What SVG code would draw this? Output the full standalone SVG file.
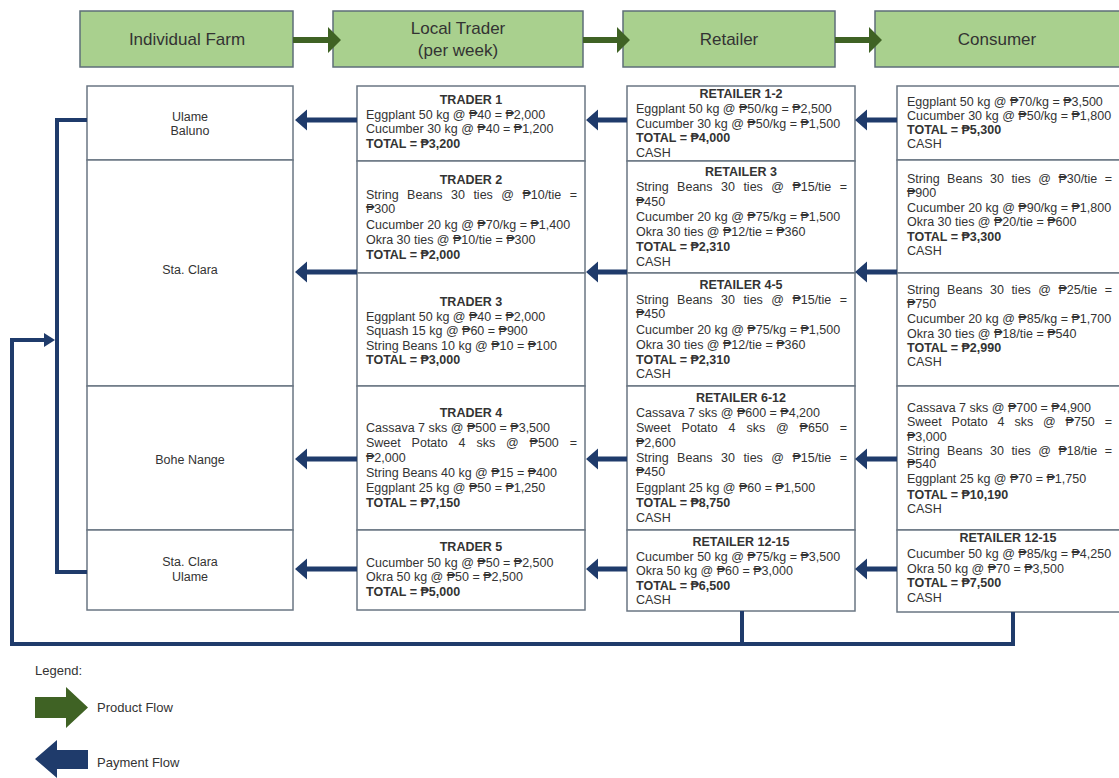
<svg xmlns="http://www.w3.org/2000/svg" width="1119" height="778" viewBox="0 0 1119 778">
<style>
.hdr{fill:#a9d08e;stroke:#5e6e78;stroke-width:1.5}
.box{fill:#fff;stroke:#6a7683;stroke-width:1.5}
.ht{font-family:"Liberation Sans",Arial,sans-serif;font-size:17px;fill:#333;text-anchor:middle}
.ft{font-family:"Liberation Sans",Arial,sans-serif;font-size:12.5px;fill:#333;text-anchor:middle}
.t{font-family:"Liberation Sans",Arial,sans-serif;font-size:12.5px;fill:#333}
.b{font-weight:bold}
.c{text-anchor:middle}
.e{text-anchor:end}
.pay{fill:#1f3b6b}
.prod{fill:#3f6224}
.ln{stroke:#1f3b6b;stroke-width:4;fill:none}
.lg{font-family:"Liberation Sans",Arial,sans-serif;font-size:13px;fill:#333}
</style>
<rect width="1119" height="778" fill="#fff"/>

<g id="header-farm"><rect class="hdr" x="80" y="11" width="213" height="56"/><text class="ht" x="187" y="45">Individual Farm</text></g>
<g id="header-trader"><rect class="hdr" x="333" y="11" width="250" height="56"/><text class="ht" x="458" y="34">Local Trader</text><text class="ht" x="458" y="56">(per week)</text></g>
<g id="header-retailer"><rect class="hdr" x="623" y="11" width="212" height="56"/><text class="ht" x="729" y="45">Retailer</text></g>
<g id="header-consumer"><rect class="hdr" x="875" y="11" width="260" height="56"/><text class="ht" x="997" y="45">Consumer</text></g>

<g id="farm-ulame-baluno"><rect class="box" x="87" y="86" width="206" height="74"/><text class="ft" x="190" y="121">Ulame</text><text class="ft" x="190" y="135">Baluno</text></g>
<g id="farm-sta-clara"><rect class="box" x="87" y="160" width="206" height="226"/><text class="ft" x="190" y="274">Sta. Clara</text></g>
<g id="farm-bohe-nange"><rect class="box" x="87" y="386" width="206" height="144"/><text class="ft" x="190" y="464">Bohe Nange</text></g>
<g id="farm-sta-clara-ulame"><rect class="box" x="87" y="530" width="206" height="80"/><text class="ft" x="190" y="566">Sta. Clara</text><text class="ft" x="190" y="581">Ulame</text></g>

<g id="trader-1"><rect class="box" x="357" y="86" width="228" height="75"/>
<text class="t b c" x="471" y="104">TRADER 1</text>
<text class="t" x="366" y="118.5">Eggplant 50 kg @ ₱40 = ₱2,000</text>
<text class="t" x="366" y="133">Cucumber 30 kg @ ₱40 = ₱1,200</text>
<text class="t b" x="366" y="147.5">TOTAL = ₱3,200</text></g>
<g id="trader-2"><rect class="box" x="357" y="161" width="228" height="112"/>
<text class="t b c" x="471" y="184">TRADER 2</text>
<text class="t" y="199"><tspan x="366">String</tspan><tspan x="407.1">Beans</tspan><tspan x="451">30</tspan><tspan x="473.4">ties</tspan><tspan x="501.3">@</tspan><tspan x="522.4">₱10/tie</tspan></text><text class="t e" x="577" y="199">=</text>
<text class="t" x="366" y="213">₱300</text>
<text class="t" x="366" y="229">Cucumber 20 kg @ ₱70/kg = ₱1,400</text>
<text class="t" x="366" y="244">Okra 30 ties @ ₱10/tie = ₱300</text>
<text class="t b" x="366" y="259">TOTAL = ₱2,000</text></g>
<g id="trader-3"><rect class="box" x="357" y="273" width="228" height="113"/>
<text class="t b c" x="471" y="306">TRADER 3</text>
<text class="t" x="366" y="320.5">Eggplant 50 kg @ ₱40 = ₱2,000</text>
<text class="t" x="366" y="335">Squash 15 kg @ ₱60 = ₱900</text>
<text class="t" x="366" y="349.5">String Beans 10 kg @ ₱10 = ₱100</text>
<text class="t b" x="366" y="364">TOTAL = ₱3,000</text></g>
<g id="trader-4"><rect class="box" x="357" y="386" width="228" height="144"/>
<text class="t b c" x="471" y="417">TRADER 4</text>
<text class="t" x="366" y="432">Cassava 7 sks @ ₱500 = ₱3,500</text>
<text class="t" y="447"><tspan x="366">Sweet</tspan><tspan x="411.6">Potato</tspan><tspan x="458.6">4</tspan><tspan x="476.4">sks</tspan><tspan x="506">@</tspan><tspan x="529.6">₱500</tspan></text><text class="t e" x="577" y="447">=</text>
<text class="t" x="366" y="461.5">₱2,000</text>
<text class="t" x="366" y="477">String Beans 40 kg @ ₱15 = ₱400</text>
<text class="t" x="366" y="492">Eggplant 25 kg @ ₱50 = ₱1,250</text>
<text class="t b" x="366" y="507">TOTAL = ₱7,150</text></g>
<g id="trader-5"><rect class="box" x="357" y="530" width="228" height="80"/>
<text class="t b c" x="471" y="551">TRADER 5</text>
<text class="t" x="366" y="566.5">Cucumber 50 kg @ ₱50 = ₱2,500</text>
<text class="t" x="366" y="581">Okra 50 kg @ ₱50 = ₱2,500</text>
<text class="t b" x="366" y="596">TOTAL = ₱5,000</text></g>

<g id="retailer-1-2"><rect class="box" x="627" y="86" width="228" height="75"/>
<text class="t b c" x="741" y="98">RETAILER 1-2</text>
<text class="t" x="636" y="113">Eggplant 50 kg @ ₱50/kg = ₱2,500</text>
<text class="t" x="636" y="127.5">Cucumber 30 kg @ ₱50/kg = ₱1,500</text>
<text class="t b" x="636" y="142">TOTAL = ₱4,000</text>
<text class="t" x="636" y="156.5">CASH</text></g>
<g id="retailer-3"><rect class="box" x="627" y="161" width="228" height="112"/>
<text class="t b c" x="741" y="176">RETAILER 3</text>
<text class="t" y="191"><tspan x="636">String</tspan><tspan x="677.1">Beans</tspan><tspan x="721">30</tspan><tspan x="743.4">ties</tspan><tspan x="771.3">@</tspan><tspan x="792.4">₱15/tie</tspan></text><text class="t e" x="847" y="191">=</text>
<text class="t" x="636" y="205.5">₱450</text>
<text class="t" x="636" y="221">Cucumber 20 kg @ ₱75/kg = ₱1,500</text>
<text class="t" x="636" y="236">Okra 30 ties @ ₱12/tie = ₱360</text>
<text class="t b" x="636" y="251">TOTAL = ₱2,310</text>
<text class="t" x="636" y="265.5">CASH</text></g>
<g id="retailer-4-5"><rect class="box" x="627" y="273" width="228" height="113"/>
<text class="t b c" x="741" y="289">RETAILER 4-5</text>
<text class="t" y="304"><tspan x="636">String</tspan><tspan x="677.1">Beans</tspan><tspan x="721">30</tspan><tspan x="743.4">ties</tspan><tspan x="771.3">@</tspan><tspan x="792.4">₱15/tie</tspan></text><text class="t e" x="847" y="304">=</text>
<text class="t" x="636" y="318">₱450</text>
<text class="t" x="636" y="333.5">Cucumber 20 kg @ ₱75/kg = ₱1,500</text>
<text class="t" x="636" y="348.5">Okra 30 ties @ ₱12/tie = ₱360</text>
<text class="t b" x="636" y="363.5">TOTAL = ₱2,310</text>
<text class="t" x="636" y="378">CASH</text></g>
<g id="retailer-6-12"><rect class="box" x="627" y="386" width="228" height="144"/>
<text class="t b c" x="741" y="402">RETAILER 6-12</text>
<text class="t" x="636" y="417">Cassava 7 sks @ ₱600 = ₱4,200</text>
<text class="t" y="432"><tspan x="636">Sweet</tspan><tspan x="681.6">Potato</tspan><tspan x="728.6">4</tspan><tspan x="746.4">sks</tspan><tspan x="776">@</tspan><tspan x="799.6">₱650</tspan></text><text class="t e" x="847" y="432">=</text>
<text class="t" x="636" y="446.5">₱2,600</text>
<text class="t" y="461.5"><tspan x="636">String</tspan><tspan x="677.1">Beans</tspan><tspan x="721">30</tspan><tspan x="743.4">ties</tspan><tspan x="771.3">@</tspan><tspan x="792.4">₱15/tie</tspan></text><text class="t e" x="847" y="461.5">=</text>
<text class="t" x="636" y="476">₱450</text>
<text class="t" x="636" y="492">Eggplant 25 kg @ ₱60 = ₱1,500</text>
<text class="t b" x="636" y="507">TOTAL = ₱8,750</text>
<text class="t" x="636" y="521.5">CASH</text></g>
<g id="retailer-12-15"><rect class="box" x="627" y="530" width="228" height="81"/>
<text class="t b c" x="741" y="546">RETAILER 12-15</text>
<text class="t" x="636" y="560.5">Cucumber 50 kg @ ₱75/kg = ₱3,500</text>
<text class="t" x="636" y="575">Okra 50 kg @ ₱60 = ₱3,000</text>
<text class="t b" x="636" y="589.5">TOTAL = ₱6,500</text>
<text class="t" x="636" y="604">CASH</text></g>

<g id="consumer-1"><rect class="box" x="897" y="86" width="240" height="74"/>
<text class="t" x="907" y="106">Eggplant 50 kg @ ₱70/kg = ₱3,500</text>
<text class="t" x="907" y="120">Cucumber 30 kg @ ₱50/kg = ₱1,800</text>
<text class="t b" x="907" y="134">TOTAL = ₱5,300</text>
<text class="t" x="907" y="148">CASH</text></g>
<g id="consumer-2"><rect class="box" x="897" y="160" width="240" height="113"/>
<text class="t" y="183"><tspan x="907">String</tspan><tspan x="947.1">Beans</tspan><tspan x="990">30</tspan><tspan x="1011.4">ties</tspan><tspan x="1038.3">@</tspan><tspan x="1058.4">₱30/tie</tspan></text><text class="t e" x="1112" y="183">=</text>
<text class="t" x="907" y="197">₱900</text>
<text class="t" x="907" y="211.5">Cucumber 20 kg @ ₱90/kg = ₱1,800</text>
<text class="t" x="907" y="226">Okra 30 ties @ ₱20/tie = ₱600</text>
<text class="t b" x="907" y="241">TOTAL = ₱3,300</text>
<text class="t" x="907" y="255">CASH</text></g>
<g id="consumer-3"><rect class="box" x="897" y="273" width="240" height="113"/>
<text class="t" y="294"><tspan x="907">String</tspan><tspan x="947.1">Beans</tspan><tspan x="990">30</tspan><tspan x="1011.4">ties</tspan><tspan x="1038.3">@</tspan><tspan x="1058.4">₱25/tie</tspan></text><text class="t e" x="1112" y="294">=</text>
<text class="t" x="907" y="308">₱750</text>
<text class="t" x="907" y="323">Cucumber 20 kg @ ₱85/kg = ₱1,700</text>
<text class="t" x="907" y="337.5">Okra 30 ties @ ₱18/tie = ₱540</text>
<text class="t b" x="907" y="352">TOTAL = ₱2,990</text>
<text class="t" x="907" y="366">CASH</text></g>
<g id="consumer-4"><rect class="box" x="897" y="386" width="240" height="144"/>
<text class="t" x="907" y="412">Cassava 7 sks @ ₱700 = ₱4,900</text>
<text class="t" y="426"><tspan x="907">Sweet</tspan><tspan x="951.6">Potato</tspan><tspan x="997.6">4</tspan><tspan x="1014.4">sks</tspan><tspan x="1043">@</tspan><tspan x="1065.6">₱750</tspan></text><text class="t e" x="1112" y="426">=</text>
<text class="t" x="907" y="441">₱3,000</text>
<text class="t" y="455"><tspan x="907">String</tspan><tspan x="947.1">Beans</tspan><tspan x="990">30</tspan><tspan x="1011.4">ties</tspan><tspan x="1038.3">@</tspan><tspan x="1058.4">₱18/tie</tspan></text><text class="t e" x="1112" y="455">=</text>
<text class="t" x="907" y="468">₱540</text>
<text class="t" x="907" y="483">Eggplant 25 kg @ ₱70 = ₱1,750</text>
<text class="t b" x="907" y="498.5">TOTAL = ₱10,190</text>
<text class="t" x="907" y="513">CASH</text></g>
<g id="consumer-5"><rect class="box" x="897" y="530" width="240" height="82"/>
<text class="t b c" x="1008" y="542">RETAILER 12-15</text>
<text class="t" x="907" y="558">Cucumber 50 kg @ ₱85/kg = ₱4,250</text>
<text class="t" x="907" y="572.5">Okra 50 kg @ ₱70 = ₱3,500</text>
<text class="t b" x="907" y="587">TOTAL = ₱7,500</text>
<text class="t" x="907" y="601.5">CASH</text></g>

<g id="connectors">
<path class="prod" d="M293,37 H328 V27 L341,40 L328,53 V43 H293 Z"/>
<path class="prod" d="M583,37 H617 V27 L630,40 L617,53 V43 H583 Z"/>
<path class="prod" d="M835,37 H869 V27 L882,40 L869,53 V43 H835 Z"/>

<path class="pay" d="M855,120 L867,109.5 V117.5 H897 V122.5 H867 V130.5 Z"/>
<path class="pay" d="M586,120 L598,109.5 V117.5 H627 V122.5 H598 V130.5 Z"/>
<path class="pay" d="M295,120 L307,109.5 V117.5 H357 V122.5 H307 V130.5 Z"/>

<path class="pay" d="M855,272 L867,261.5 V269.5 H897 V274.5 H867 V282.5 Z"/>
<path class="pay" d="M586,272 L598,261.5 V269.5 H627 V274.5 H598 V282.5 Z"/>
<path class="pay" d="M295,272 L307,261.5 V269.5 H357 V274.5 H307 V282.5 Z"/>

<path class="pay" d="M855,459 L867,448.5 V456.5 H897 V461.5 H867 V469.5 Z"/>
<path class="pay" d="M586,459 L598,448.5 V456.5 H627 V461.5 H598 V469.5 Z"/>
<path class="pay" d="M295,459 L307,448.5 V456.5 H357 V461.5 H307 V469.5 Z"/>

<path class="pay" d="M855,569 L867,558.5 V566.5 H897 V571.5 H867 V579.5 Z"/>
<path class="pay" d="M586,569 L598,558.5 V566.5 H627 V571.5 H598 V579.5 Z"/>
<path class="pay" d="M295,569 L307,558.5 V566.5 H357 V571.5 H307 V579.5 Z"/>

<path class="ln" d="M87,120 H57 V572 H87"/>
<path class="ln" d="M742,611 V644 M1013,612 V644 M1015,644 H12 V340 H45"/>
<path class="pay" d="M44,333 L55,340 L44,347 Z"/>
</g>

<g id="legend">
<text class="lg" x="35" y="675">Legend:</text>
<path class="prod" d="M35,697 H66 V687 L88,707.5 L66,728 V718 H35 Z"/>
<text class="lg" x="97" y="712">Product Flow</text>
<path class="pay" d="M35,759 L57,740 V750 H88 V769 H57 V778 Z"/>
<text class="lg" x="97" y="767">Payment Flow</text>
</g>
</svg>
